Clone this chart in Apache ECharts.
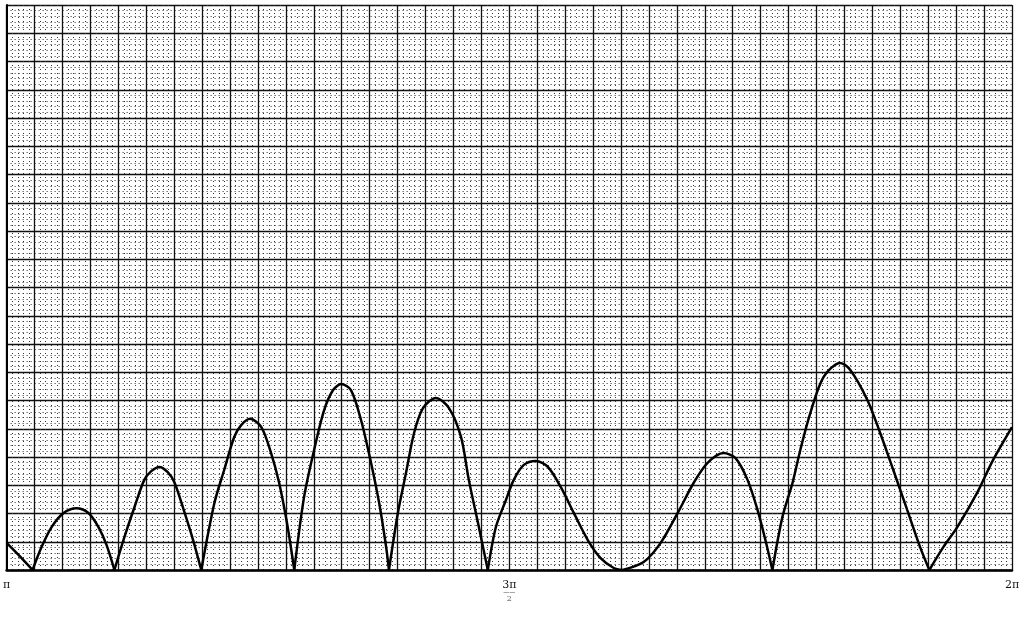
<!DOCTYPE html>
<html>
<head>
<meta charset="utf-8">
<script src="https://cdn.jsdelivr.net/npm/echarts@6/dist/echarts.min.js"></script>
<style>
    html, body { margin: 0; padding: 0; background: #fff; }
    #chart { width: 1028px; height: 621px; }
</style>
</head>
<body>
<div id="chart"></div>
<script>
// x in grid squares (36 squares from pi to 2pi), y in grid squares (20 squares)
var tickPos = [0, 18, 36];
var tickText = ['π', '3π/2', '2π'];

// arches of the curve, [x, y]
var arch0 = [[0, 0.96], [0.46, 0.5], [0.93, 0]];
var arch1 = [[0.93, 0], [1.25, 0.81], [1.61, 1.52], [2.04, 2.02], [2.50, 2.19], [2.93, 2.02], [3.29, 1.52], [3.58, 0.88], [3.86, 0]];
var arch2 = [[3.86, 0], [4.22, 1.17], [4.58, 2.23], [4.93, 3.19], [5.18, 3.50], [5.47, 3.65], [5.76, 3.47], [6.01, 3.10], [6.35, 2.10], [6.68, 1.05], [6.97, 0]];
var arch3 = [[6.97, 0], [7.44, 2.37], [7.79, 3.54], [8.15, 4.71], [8.40, 5.13], [8.72, 5.35], [9.12, 5.06], [9.47, 4.14], [9.76, 3.08], [10.05, 1.60], [10.30, 0]];
var arch4 = [[10.30, 0], [10.65, 2.58], [11.01, 4.25], [11.37, 5.66], [11.69, 6.37], [11.98, 6.58], [12.33, 6.37], [12.69, 5.31], [13.05, 3.79], [13.34, 2.37], [13.59, 0.81], [13.69, 0]];
var arch5 = [[13.69, 0], [14.01, 2.02], [14.30, 3.43], [14.59, 4.85], [14.91, 5.73], [15.37, 6.09], [15.84, 5.73], [16.27, 4.71], [16.55, 3.19], [16.88, 1.66], [17.23, 0]];
var arch6 = [[17.23, 0], [17.52, 1.52], [17.88, 2.48], [18.16, 3.19], [18.52, 3.72], [18.95, 3.86], [19.38, 3.65], [19.84, 2.94], [20.31, 2.02], [20.81, 1.06], [21.27, 0.42], [21.74, 0.07], [22.06, 0]];
var arch7 = [[22.06, 0], [22.81, 0.28], [23.42, 0.96], [24.03, 2.02], [24.60, 3.08], [25.10, 3.79], [25.67, 4.14], [26.10, 3.96], [26.53, 3.19], [26.89, 2.12], [27.17, 1.06], [27.42, 0]];
var arch8 = [[27.42, 0], [27.78, 1.88], [28.14, 3.08], [28.42, 4.25], [28.78, 5.56], [29.25, 6.83], [29.85, 7.33], [30.21, 7.08], [30.82, 6.02], [31.28, 4.85], [31.75, 3.54], [32.25, 2.12], [32.71, 0.81], [33.04, 0]];
var arch9 = [[33.04, 0], [33.54, 0.81], [34.04, 1.52], [34.75, 2.73], [35.32, 3.89], [36, 5.06]];

var arches = [arch0, arch1, arch2, arch3, arch4, arch5, arch6, arch7, arch8, arch9];

var chart = echarts.init(document.getElementById('chart'));

var gridLine = { show: true, lineStyle: { color: '#111', width: 1.3 } };
var minorLine = { show: true, lineStyle: { color: '#333', width: 1, type: [1, 3] } };

var option = {
    animation: false,
    backgroundColor: '#fff',
    grid: { left: 5, right: 16, top: 5, bottom: 51 },
    xAxis: {
        type: 'value',
        min: 0,
        max: 36,
        interval: 1,
        axisLine: { show: true, lineStyle: { color: '#000', width: 2.5 } },
        axisTick: { show: false },
        minorTick: { show: false, splitNumber: 5 },
        splitLine: gridLine,
        minorSplitLine: minorLine,
        axisLabel: {
            show: true,
            margin: 10,
            color: '#111',
            fontFamily: 'DejaVu Serif',
            fontSize: 11,
            formatter: function (v) {
                var i = tickPos.indexOf(v);
                if (i < 0) return '';
                var t = tickText[i];
                if (t.indexOf('/') > 0) {
                    var p = t.split('/');
                    return '{n|' + p[0] + '}\n{b|——}\n{d|' + p[1] + '}';
                }
                return t;
            },
            rich: {
                n: { fontSize: 11, fontFamily: 'DejaVu Serif', color: '#111', lineHeight: 10 },
                b: { fontSize: 6, color: '#222', lineHeight: 4 },
                d: { fontSize: 8, fontFamily: 'DejaVu Serif', color: '#555', lineHeight: 10 }
            }
        }
    },
    yAxis: {
        type: 'value',
        min: 0,
        max: 20,
        interval: 1,
        axisLine: { show: true, lineStyle: { color: '#000', width: 2 } },
        axisTick: { show: false },
        axisLabel: { show: false },
        minorTick: { show: false, splitNumber: 5 },
        splitLine: gridLine,
        minorSplitLine: minorLine
    },
    series: arches.map(function (a) {
        return {
            type: 'line',
            data: a,
            smooth: 0.3,
            symbol: 'none',
            lineStyle: { color: '#000', width: 2.5 }
        };
    })
};

chart.setOption(option);

window.onresize = function () {
    chart.resize();
};
</script>
</body>
</html>
